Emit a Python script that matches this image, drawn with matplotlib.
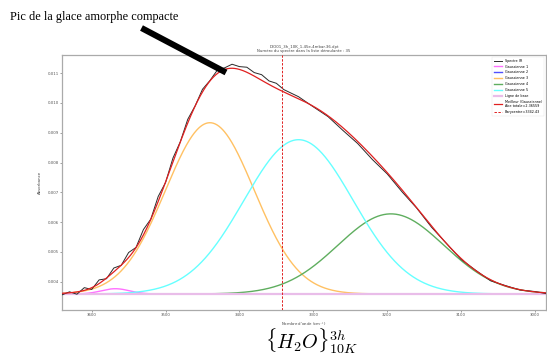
import numpy as np
import matplotlib
matplotlib.use("Agg")
import matplotlib.pyplot as plt
from matplotlib.lines import Line2D

plt.rcParams["mathtext.fontset"] = "cm"

# ---------------- data ----------------
# IR spectrum (wavenumber, absorbance)
spec_wn = [3640, 3630, 3620, 3610, 3600, 3590, 3580, 3570, 3560, 3550,
           3540, 3530, 3520, 3510, 3500, 3490, 3480, 3470, 3460, 3450,
           3440, 3430, 3420, 3410, 3400, 3390, 3380, 3370, 3360, 3350,
           3340, 3320, 3300, 3280, 3260, 3240, 3220, 3200, 3180, 3160,
           3140, 3120, 3100, 3080, 3060, 3040, 3020, 3000, 2985]
spec_abs = [3.56, 3.66, 3.58, 3.80, 3.74, 4.06, 4.10, 4.46, 4.55, 4.98,
            5.15, 5.75, 6.10, 6.86, 7.33, 8.15, 8.70, 9.45, 9.90, 10.46,
            10.75, 11.10, 11.18, 11.30, 11.22, 11.20, 11.02, 10.95, 10.74, 10.66,
            10.45, 10.21, 9.87, 9.54, 9.08, 8.64, 8.10, 7.62, 7.02, 6.47,
            5.83, 5.29, 4.75, 4.38, 4.03, 3.87, 3.72, 3.67, 3.60]
spec_abs = [v * 1e-3 for v in spec_abs]

# Gaussian decomposition (centre cm-1, amplitude above baseline, sigma cm-1)
g_names = ["Gaussienne 1", "Gaussienne 2", "Gaussienne 3", "Gaussienne 4", "Gaussienne 5"]
g_centers = [3568, 3100, 3440, 3195, 3320]
g_amps = [0.000178, 0.000005, 0.00575, 0.00269, 0.00518]
g_sigmas = [19, 60, 60, 72, 74]
g_colors = ["#ff70ff", "#5050ff", "#ffc163", "#5fae5f", "#66ffff"]

baseline = 0.003587
barycentre = 3342.43
aire_totale = 2.36559

title_lines = ["DIO01_3h_10K_1.45e-4mbar.36.dpt",
               "Numéro du spectre dans la liste déroulante : 35"]
x_ticks = [3600, 3500, 3400, 3300, 3200, 3100, 3000]
y_ticks = [0.004, 0.005, 0.006, 0.007, 0.008, 0.009, 0.010, 0.011]

# ---------------- figure ----------------
W, H = 547, 358
fig = plt.figure(figsize=(W / 100, H / 100), dpi=100)
ax = fig.add_axes([62 / W, (H - 310) / H, (546 - 62) / W, (310 - 55) / H])

wn = np.linspace(3645, 2980, 800)
comps = []
for c, a, s in zip(g_centers, g_amps, g_sigmas):
    comps.append(a * np.exp(-0.5 * ((wn - c) / s) ** 2))
fit = baseline + np.sum(comps, axis=0)

ax.plot(spec_wn, spec_abs, color="#2a2a2a", lw=0.7, label="Spectre IR", zorder=3)
for name, comp, col in zip(g_names, comps, g_colors):
    ax.plot(wn, baseline + comp, color=col, lw=1.0, label=name, zorder=2)
ax.plot(wn, np.full_like(wn, baseline), color="#e9bde9", lw=1.6,
        label="Ligne de base", zorder=2.5)
ax.plot(wn, fit, color="#e02020", lw=0.9,
        label="Meilleur (Gaussienne)\nAire totale=%.5f" % aire_totale, zorder=4)
ax.axvline(barycentre, color="#e02020", lw=0.7, ls=(0, (2.5, 1.5)),
           label="Barycentre=%.2f" % barycentre, zorder=5)

ax.set_xlim(3640.2, 2985)
ax.set_ylim(0.00305, 0.01161)
ax.set_xticks(x_ticks)
ax.set_yticks(y_ticks)
ax.set_xticklabels([str(t) for t in x_ticks])
ax.set_yticklabels(["%.3f" % t for t in y_ticks])
ax.tick_params(labelsize=2.8, length=1.5, width=0.4, pad=1, colors="#555555")
for sp in ax.spines.values():
    sp.set_color("#aaaaaa")
    sp.set_linewidth(0.9)
ax.set_xlabel("Nombre d'onde (cm$^{-1}$)", fontsize=2.8, labelpad=2, color="#444444")
ax.set_ylabel("Absorbance", fontsize=2.8, labelpad=4, color="#444444")
ax.set_title("\n".join(title_lines), fontsize=2.8, pad=2, color="#444444",
             linespacing=1.2)

leg = ax.legend(loc="upper right", fontsize=2.4, frameon=True, handlelength=2.6,
                borderpad=0.6, labelspacing=0.55, fancybox=False)
leg.get_frame().set_linewidth(0.3)
leg.get_frame().set_edgecolor("#dddddd")

# annotation
fig.text(10 / W, 1 - 17 / H, "Pic de la glace amorphe compacte",
         family="Liberation Serif", fontsize=8.85, ha="left", va="center")
fig.add_artist(Line2D([141.5 / W, 226 / W], [1 - 28 / H, 1 - 72.5 / H],
                      transform=fig.transFigure, lw=4.4, color="black",
                      solid_capstyle="butt"))

fig.text(312 / W, 1 - 341 / H, r"$\{H_2O\}^{3h}_{10K}$", fontsize=14.5,
         ha="center", va="center")

fig.savefig("out.png", dpi=100)
